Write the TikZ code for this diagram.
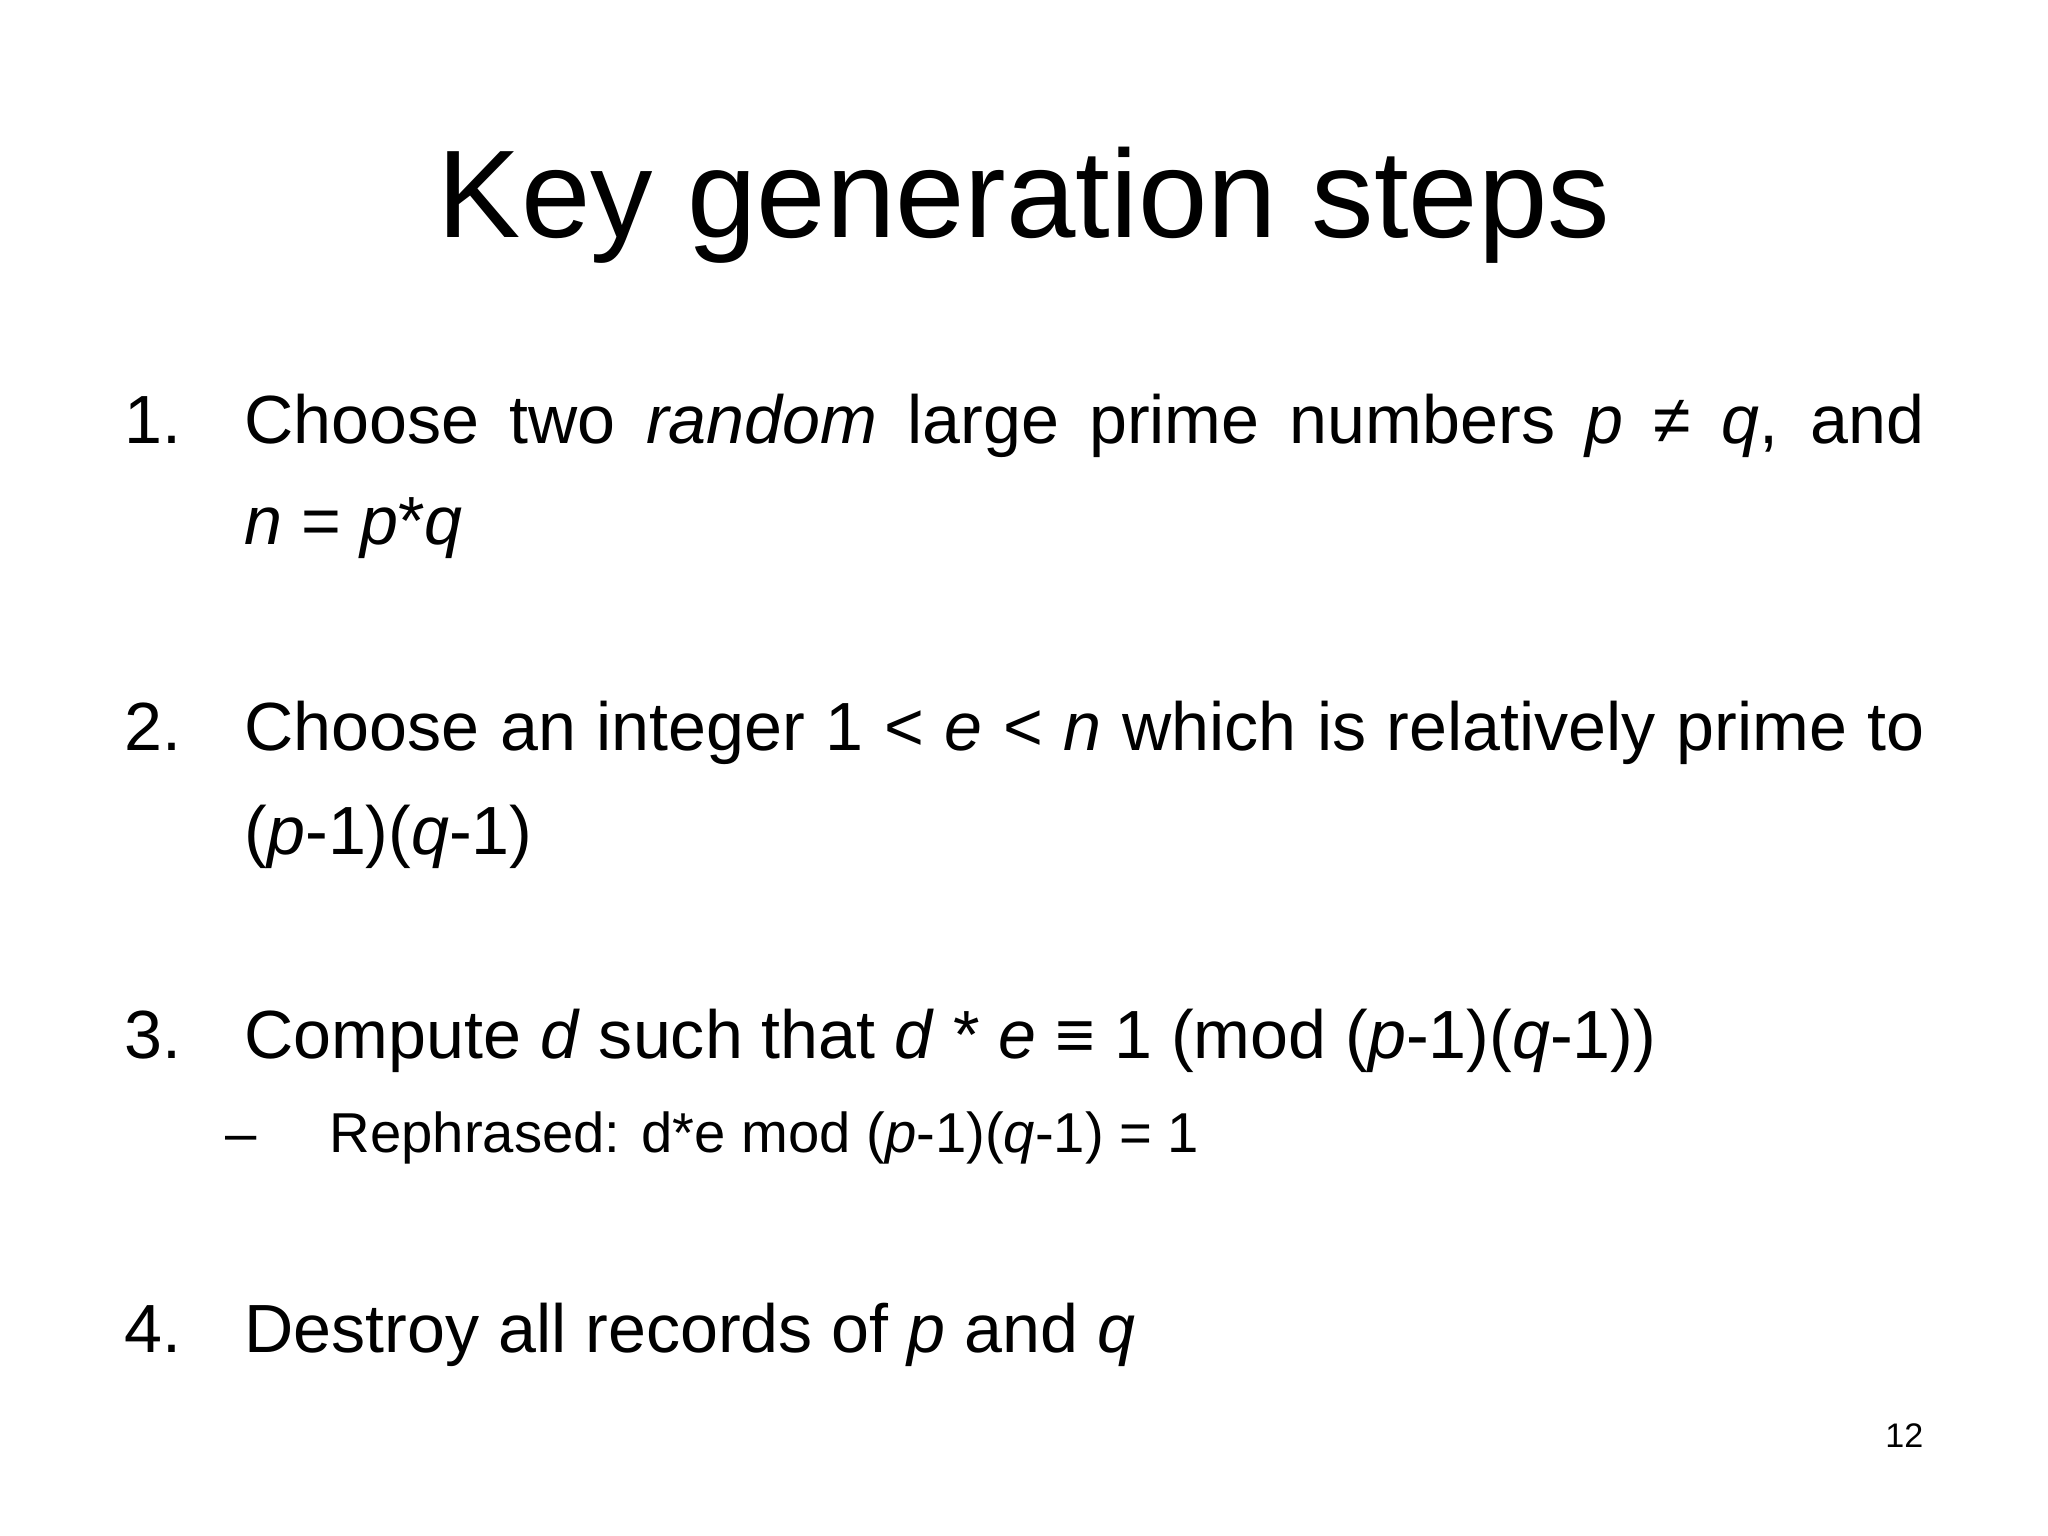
\documentclass[tikz,border=0pt]{standalone}
\usepackage{fontspec}
\setmainfont{Liberation Sans}
\begin{document}
\begin{tikzpicture}[x=1cm,y=-1cm,
  body/.style={anchor=base west,inner sep=0pt,font=\fontsize{19.4}{24}\selectfont},
  sub/.style={anchor=base west,inner sep=0pt,font=\fontsize{16}{20}\selectfont}]
\useasboundingbox[fill=white] (0,0) rectangle (20.48,15.36);
\node[anchor=base,inner sep=0pt,font=\fontsize{35.5}{40}\selectfont] (title) at (10.24,2.38) {Key generation steps};
\node[body] (n1) at (1.24,4.44) {1.};
\node[body] (l1) at (2.44,4.44) {\makebox[16.8cm][s]{Choose two \textit{random} large prime numbers \textit{p} \textit{≠} \textit{q}, and}};
\node[body] (l1b) at (2.44,5.45) {\textit{n} = \textit{p}*\textit{q}};
\node[body] (n2) at (1.24,7.51) {2.};
\node[body] (l2) at (2.44,7.51) {\makebox[16.8cm][s]{Choose an integer 1 < \textit{e} < \textit{n} which is relatively prime to}};
\node[body] (l2b) at (2.44,8.55) {(\textit{p}-1)(\textit{q}-1)};
\node[body] (n3) at (1.24,10.58) {3.};
\node[body] (l3) at (2.44,10.58) {Compute \textit{d} such that \textit{d} * \textit{e} ≡ 1 (mod (\textit{p}-1)(\textit{q}-1))};
\node[sub] (d3) at (2.25,11.52) {–};
\node[sub] (s3) at (3.29,11.52) {Rephrased: d*e mod (\textit{p}-1)(\textit{q}-1) = 1};
\node[body] (n4) at (1.24,13.52) {4.};
\node[body] (l4) at (2.44,13.52) {Destroy all records of \textit{p} and \textit{q}};
\node[anchor=base east,inner sep=0pt,font=\fontsize{9.7}{12}\selectfont] (pg) at (19.24,14.47) {12};
\end{tikzpicture}
\end{document}
